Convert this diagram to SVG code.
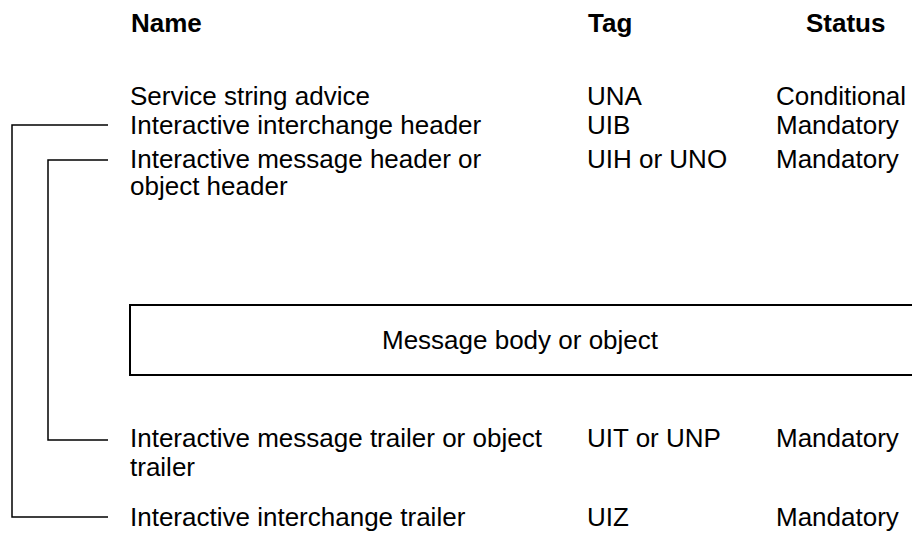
<svg xmlns="http://www.w3.org/2000/svg" width="912" height="536" viewBox="0 0 912 536">
<style>
text{font-family:"Liberation Sans",Arial,sans-serif;font-size:26px;fill:#000}
.h{font-weight:bold}
.c{fill:none;stroke:#000;stroke-width:1.5}
</style>
<rect width="912" height="536" fill="#fff"/>
<g id="header">
<text class="h" x="131" y="32">Name</text>
<text class="h" x="588" y="32">Tag</text>
<text class="h" x="806" y="32">Status</text>
</g>
<g id="una">
<text x="130" y="105">Service string advice</text>
<text x="587" y="105">UNA</text>
<text x="776" y="105">Conditional</text>
</g>
<g id="uib">
<text x="130" y="134">Interactive interchange header</text>
<text x="587" y="134">UIB</text>
<text x="776" y="134">Mandatory</text>
</g>
<g id="uih">
<text x="130" y="168">Interactive message header or</text>
<text x="130" y="195">object header</text>
<text x="587" y="168">UIH or UNO</text>
<text x="776" y="168">Mandatory</text>
</g>
<g id="body">
<rect x="130" y="305" width="800" height="70" fill="none" stroke="#000" stroke-width="2"/>
<text x="520" y="349" text-anchor="middle">Message body or object</text>
</g>
<g id="uit">
<text x="130" y="447">Interactive message trailer or object</text>
<text x="130" y="476">trailer</text>
<text x="587" y="447">UIT or UNP</text>
<text x="776" y="447">Mandatory</text>
</g>
<g id="uiz">
<text x="130" y="526">Interactive interchange trailer</text>
<text x="587" y="526">UIZ</text>
<text x="776" y="526">Mandatory</text>
</g>
<g id="connectors">
<polyline class="c" points="108,125 12,125 12,517 108,517"/>
<polyline class="c" points="108,160 48,160 48,440 108,440"/>
</g>
</svg>
